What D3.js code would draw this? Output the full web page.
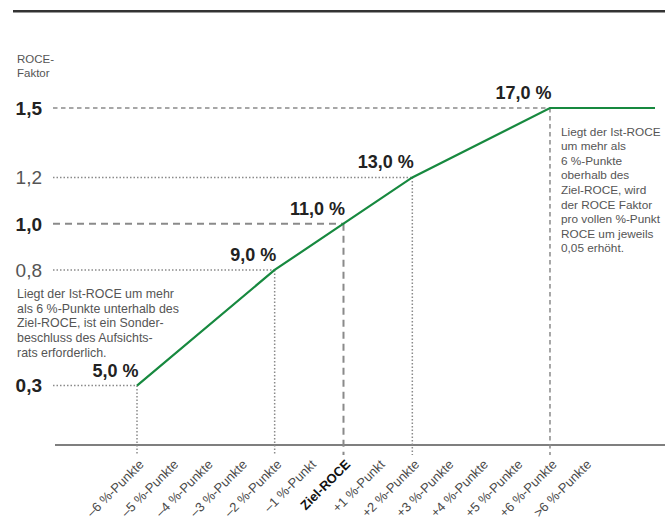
<!DOCTYPE html>
<html>
<head>
<meta charset="utf-8">
<script src="https://cdn.jsdelivr.net/npm/d3@7/dist/d3.min.js"></script>
<style>
  html, body { margin: 0; padding: 0; background: #fff; }
  svg { display: block; font-family: "Liberation Sans", Arial, Helvetica, sans-serif; }
</style>
</head>
<body>
<svg id="chart" width="665" height="530"></svg>
<script>
// Abweichung des Ist-ROCE vom Ziel-ROCE (x-Achse)
const categories = [
  "–6 %-Punkte", "–5 %-Punkte", "–4 %-Punkte", "–3 %-Punkte", "–2 %-Punkte",
  "–1 %-Punkt", "Ziel-ROCE", "+1 %-Punkt", "+2 %-Punkte", "+3 %-Punkte",
  "+4 %-Punkte", "+5 %-Punkte", "+6 %-Punkte", ">6 %-Punkte"
];
// Stützstellen der Kurve
const breakCategories = ["–6 %-Punkte", "–2 %-Punkte", "Ziel-ROCE", "+2 %-Punkte", "+6 %-Punkte"];
const rocePercent = [5.0, 9.0, 11.0, 13.0, 17.0];
const roceFactor = [0.3, 0.8, 1.0, 1.2, 1.5];
// y-Achse
const yTicks = [0.3, 0.8, 1.0, 1.2, 1.5];
const yTitle = ["ROCE-", "Faktor"];
const noteBelow = [
  "Liegt der Ist-ROCE um mehr",
  "als 6 %-Punkte unterhalb des",
  "Ziel-ROCE, ist ein Sonder-",
  "beschluss des Aufsichts-",
  "rats erforderlich."
];
const noteAbove = [
  "Liegt der Ist-ROCE",
  "um mehr als",
  "6 %-Punkte",
  "oberhalb des",
  "Ziel-ROCE, wird",
  "der ROCE Faktor",
  "pro vollen %-Punkt",
  "ROCE um jeweils",
  "0,05 erhöht."
];

const de = d3.formatLocale({ decimal: ",", thousands: ".", grouping: [3], currency: ["", " €"] });
const fmtFactor = de.format(".1f");
const fmtPct = v => de.format(".1f")(v) + " %";

const svg = d3.select("#chart");
const green = "#17893f";
const refGray = "#8a8a8a";

const x = d3.scalePoint().domain(categories).range([137, 584.4]);
const y = d3.scaleLinear().domain([0, 1.5]).range([455, 108]);
const axisY = 445;
const refLeft = 53;
const plotRight = 655;

// Linienstil je Stützstelle
const refStyle = [
  { dash: "1.5,2", width: 1.5, bold: true },
  { dash: "1.5,2", width: 1.5, bold: false },
  { dash: "7,5", width: 2, bold: true },
  { dash: "1.5,2", width: 1.5, bold: false },
  { dash: "4.5,3.5", width: 1.5, bold: true }
];

// Kopflinie
svg.append("line")
  .attr("x1", 13).attr("x2", 665).attr("y1", 11.3).attr("y2", 11.3)
  .attr("stroke", "#333").attr("stroke-width", 2.6);

// Achsentitel
svg.append("text")
  .attr("x", 17).attr("y", 63)
  .attr("font-size", 11.5).attr("fill", "#555")
  .selectAll("tspan").data(yTitle).join("tspan")
  .attr("x", 17).attr("dy", (d, i) => i ? 13.5 : 0)
  .text(d => d);

// x-Achse
const xAxis = d3.axisBottom(x).tickSize(0).tickPadding(0);
const gx = svg.append("g").attr("transform", `translate(0,${axisY})`).call(xAxis);
gx.select(".domain").remove();
gx.append("line")
  .attr("x1", 55).attr("x2", 665).attr("y1", 0).attr("y2", 0)
  .attr("stroke", "#555").attr("stroke-width", 1.5);
gx.selectAll(".tick text")
  .attr("transform", "translate(4,17) rotate(-45)")
  .attr("text-anchor", "end")
  .attr("dy", "0.35em")
  .attr("y", 0)
  .attr("font-family", "\"Liberation Sans\", Arial, sans-serif")
  .attr("font-size", 13)
  .attr("fill", d => d === "Ziel-ROCE" ? "#111" : "#4a4a4a")
  .attr("font-weight", d => d === "Ziel-ROCE" ? "bold" : "normal");

// Bezugslinien
const pts = breakCategories.map((c, i) => ({ cat: c, pct: rocePercent[i], f: roceFactor[i], s: refStyle[i] }));
const refs = svg.append("g").attr("fill", "none").attr("stroke", refGray);
refs.selectAll("line.h").data(pts).join("line")
  .attr("class", "h")
  .attr("x1", refLeft).attr("x2", d => x(d.cat))
  .attr("y1", d => y(d.f)).attr("y2", d => y(d.f))
  .attr("stroke-dasharray", d => d.s.dash)
  .attr("stroke-width", d => d.s.width);
refs.selectAll("line.v").data(pts).join("line")
  .attr("class", "v")
  .attr("x1", d => x(d.cat)).attr("x2", d => x(d.cat))
  .attr("y1", d => y(d.f)).attr("y2", y(0))
  .attr("stroke-dasharray", d => d.s.dash)
  .attr("stroke-width", d => d.s.width);

// y-Beschriftung
svg.append("g").selectAll("text").data(yTicks).join("text")
  .attr("x", 42).attr("y", d => y(d))
  .attr("dy", "0.36em")
  .attr("text-anchor", "end")
  .attr("font-size", 19)
  .attr("font-weight", (d, i) => refStyle[i].bold ? "bold" : "normal")
  .attr("fill", (d, i) => refStyle[i].bold ? "#222" : "#555")
  .text(d => fmtFactor(d));

// Kurve
const linePts = pts.map(d => [x(d.cat), y(d.f)]);
linePts.push([plotRight, y(roceFactor[roceFactor.length - 1])]);
svg.append("path")
  .attr("d", d3.line()(linePts))
  .attr("fill", "none")
  .attr("stroke", green)
  .attr("stroke-width", 2.2);

// Prozentwerte
svg.append("g").selectAll("text").data(pts).join("text")
  .attr("x", d => x(d.cat) + 1.5).attr("y", d => y(d.f) - 9)
  .attr("text-anchor", "end")
  .attr("font-size", 18)
  .attr("font-weight", "bold")
  .attr("fill", "#222")
  .text(d => fmtPct(d.pct));

// Hinweistexte
svg.append("text")
  .attr("font-size", 12.4).attr("fill", "#555")
  .selectAll("tspan").data(noteBelow).join("tspan")
  .attr("x", 17).attr("y", (d, i) => 298 + i * 14.7)
  .text(d => d);
svg.append("text")
  .attr("font-size", 11.8).attr("fill", "#555")
  .selectAll("tspan").data(noteAbove).join("tspan")
  .attr("x", 561).attr("y", (d, i) => 135.5 + i * 14.6)
  .text(d => d);
</script>
</body>
</html>
